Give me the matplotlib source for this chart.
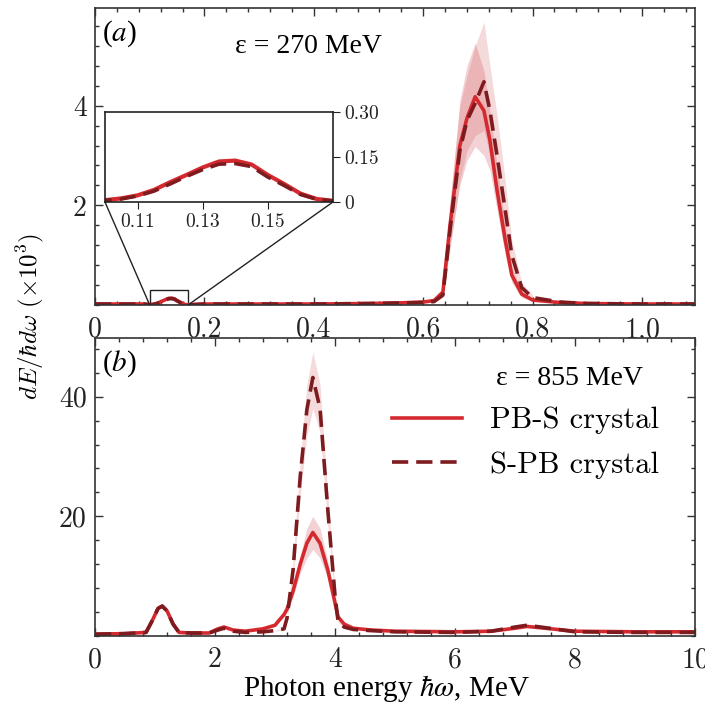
import matplotlib
matplotlib.use("Agg")
import matplotlib.pyplot as plt
from matplotlib.ticker import MultipleLocator
from mpl_toolkits.axes_grid1.inset_locator import mark_inset

plt.rcParams["mathtext.fontset"] = "cm"

# ---- spectra, panel (a): epsilon = 270 MeV ----
xa = [0, 0.05, 0.09, 0.10, 0.105, 0.11, 0.115, 0.12, 0.125, 0.13, 0.135, 0.14,
      0.145, 0.15, 0.155, 0.16, 0.165, 0.17, 0.2, 0.3, 0.4, 0.5, 0.55, 0.6,
      0.62, 0.636, 0.649, 0.667, 0.68, 0.695, 0.711, 0.722, 0.735, 0.75,
      0.762, 0.78, 0.8, 0.85, 0.9, 1.0, 1.1]
pbs_a = [0.02, 0.02, 0.02, 0.006, 0.012, 0.022, 0.04, 0.066, 0.09, 0.115, 0.135,
         0.138, 0.125, 0.09, 0.06, 0.028, 0.01, 0.004, 0.02, 0.02, 0.02, 0.03,
         0.04, 0.06, 0.09, 0.26, 1.6, 3.2, 3.75, 4.18, 3.9, 3.3, 2.3, 1.3,
         0.6, 0.22, 0.1, 0.05, 0.03, 0.02, 0.02]
spb_a = [0.02, 0.02, 0.02, 0.005, 0.01, 0.02, 0.036, 0.06, 0.085, 0.108, 0.126,
         0.128, 0.118, 0.083, 0.055, 0.025, 0.009, 0.003, 0.02, 0.02, 0.02, 0.03,
         0.04, 0.05, 0.07, 0.2, 1.5, 3.1, 3.7, 4.05, 4.48, 3.9, 3.0, 1.9,
         1.0, 0.35, 0.15, 0.06, 0.03, 0.02, 0.02]

xa_band = [0.62, 0.636, 0.649, 0.667, 0.68, 0.695, 0.711, 0.722, 0.735, 0.75, 0.762, 0.78, 0.8]
pbs_a_lo = [0.08, 0.2, 1.2, 2.4, 2.9, 3.18, 3.0, 2.7, 1.9, 1.0, 0.45, 0.15, 0.08]
pbs_a_hi = [0.1, 0.32, 2.0, 4.1, 4.8, 5.26, 4.7, 3.9, 2.8, 1.6, 0.75, 0.28, 0.12]
spb_a_lo = [0.06, 0.15, 1.1, 2.5, 3.1, 3.4, 3.5, 3.0, 2.2, 1.4, 0.7, 0.25, 0.1]
spb_a_hi = [0.08, 0.3, 2.1, 4.0, 4.6, 5.2, 5.68, 4.8, 3.8, 2.5, 1.3, 0.45, 0.2]

# ---- spectra, panel (b): epsilon = 855 MeV ----
xb = [0, 0.5, 0.85, 0.95, 1.05, 1.12, 1.2, 1.3, 1.4, 1.6, 1.9, 2.05, 2.15, 2.3,
      2.5, 2.8, 3.0, 3.15, 3.2, 3.3, 3.42, 3.53, 3.63, 3.75, 3.88, 4.0, 4.05,
      4.15, 4.3, 4.6, 5.0, 6.0, 6.6, 7.0, 7.2, 7.5, 8.0, 9.0, 10.0]
pbs_b = [0.3, 0.4, 0.6, 2.5, 4.6, 5.0, 4.2, 2.0, 0.6, 0.5, 0.5, 1.2, 1.5, 1.0,
         0.8, 1.2, 1.8, 3.6, 4.5, 7.5, 12.0, 15.5, 17.3, 15.5, 11.0, 5.5, 3.2,
         2.0, 1.3, 1.0, 0.8, 0.7, 0.8, 1.3, 1.6, 1.3, 0.8, 0.7, 0.7]
spb_b = [0.3, 0.4, 0.6, 2.5, 4.6, 5.0, 4.2, 2.0, 0.6, 0.5, 0.5, 1.0, 1.3, 0.8,
         0.6, 0.7, 0.9, 1.2, 3.0, 11.0, 26.7, 37.8, 43.2, 38.0, 21.0, 6.7, 2.5,
         1.5, 1.1, 0.9, 0.7, 0.6, 0.8, 1.5, 1.8, 1.4, 0.7, 0.6, 0.6]

xb_band = [3.0, 3.15, 3.2, 3.3, 3.42, 3.53, 3.63, 3.75, 3.88, 4.0, 4.05, 4.15]
pbs_b_lo = [2.0, 3.2, 4.0, 6.5, 10.5, 13.0, 14.5, 13.0, 9.5, 4.8, 3.0, 1.9]
pbs_b_hi = [2.6, 4.0, 5.0, 8.5, 13.5, 18.0, 20.0, 18.0, 12.5, 6.2, 3.5, 2.1]
spb_b_lo = [0.8, 1.1, 2.7, 9.5, 23.5, 33.5, 38.0, 34.0, 18.5, 6.0, 2.3, 1.4]
spb_b_hi = [1.0, 1.3, 3.3, 12.5, 29.5, 42.0, 47.5, 42.0, 23.5, 7.4, 2.7, 1.6]

xa_ticks = [0, 0.2, 0.4, 0.6, 0.8, 1.0]
xa_ticklabels = ["0", "0.2", "0.4", "0.6", "0.8", r"$1{,}0$"]
inset_xticks = [0.11, 0.13, 0.15]
inset_yticks = [0, 0.15, 0.30]
inset_yticklabels = ["0", "0.15", "0.30"]

RED = "#d42a2f"
DARK = "#7e1b1f"
BAND = "#c8323c"
SPINE = "#333333"
DASH = (0, (4.5, 2.2))
TICKFONT = "cmr10"
SERIF = "Liberation Serif"

fig = plt.figure(figsize=(7.05, 7.03), dpi=100)
ax_a = fig.add_axes([0.1348, 0.5661, 0.8511, 0.4225])
ax_b = fig.add_axes([0.1348, 0.0953, 0.8511, 0.4239])


def style_axes(ax, xmajor, xminor, ymajor, yminor):
    ax.xaxis.set_major_locator(MultipleLocator(xmajor))
    ax.xaxis.set_minor_locator(MultipleLocator(xminor))
    ax.yaxis.set_major_locator(MultipleLocator(ymajor))
    ax.yaxis.set_minor_locator(MultipleLocator(yminor))
    ax.tick_params(which="both", direction="in", top=True, right=True,
                   color=SPINE, width=1.0)
    ax.tick_params(which="major", length=6, labelsize=20, labelcolor="#222222")
    ax.tick_params(which="minor", length=3)
    ax.tick_params(axis="x", pad=8)
    ax.tick_params(axis="y", pad=6)
    for sp in ax.spines.values():
        sp.set_color(SPINE)
        sp.set_linewidth(1.2)
    for lab in ax.get_xticklabels() + ax.get_yticklabels():
        lab.set_fontfamily(TICKFONT)


def draw_spectra(ax, x, pbs, spb, xband, pbs_lo, pbs_hi, spb_lo, spb_hi, lw=2.6):
    ax.fill_between(xband, spb_lo, spb_hi, color=BAND, alpha=0.18, lw=0)
    ax.fill_between(xband, pbs_lo, pbs_hi, color=BAND, alpha=0.22, lw=0)
    ax.plot(x, pbs, color=RED, lw=lw, label="PB-S crystal")
    ax.plot(x, spb, color=DARK, lw=lw, ls=DASH, label="S-PB crystal")


# panel (a)
draw_spectra(ax_a, xa, pbs_a, spb_a, xa_band, pbs_a_lo, pbs_a_hi, spb_a_lo, spb_a_hi)
ax_a.set_xlim(0, 1.097)
ax_a.set_ylim(0, 5.96)
style_axes(ax_a, 0.2, 0.04, 2, 0.4)
ax_a.set_xticks(xa_ticks)
ax_a.set_xticklabels(xa_ticklabels, fontfamily=TICKFONT)
ax_a.set_yticks([2, 4])
ax_a.set_yticklabels(["2", "4"], fontfamily=TICKFONT)
ax_a.text(0.012, 0.965, r"($a$)", transform=ax_a.transAxes, fontsize=21,
          family=SERIF, va="top", math_fontfamily="stix")
ax_a.text(0.355, 0.87, "ε = 270 MeV", transform=ax_a.transAxes, fontsize=20,
          family=SERIF, ha="center", va="center")

# zoomed view of the low-energy bump
axins = fig.add_axes([0.1489, 0.7127, 0.3234, 0.128])
axins.plot(xa, pbs_a, color=RED, lw=3.0)
axins.plot(xa, spb_a, color=DARK, lw=2.6, ls=DASH)
axins.set_xlim(0.10, 0.17)
axins.set_ylim(0, 0.30)
axins.yaxis.tick_right()
axins.set_xticks(inset_xticks)
axins.set_xticklabels([f"{v:.2f}" for v in inset_xticks], fontfamily=TICKFONT)
axins.set_yticks(inset_yticks)
axins.set_yticklabels(inset_yticklabels, fontfamily=TICKFONT)
axins.tick_params(direction="out", length=5, labelsize=14, color="#222222",
                  labelcolor="#222222", pad=3)
for sp in axins.spines.values():
    sp.set_color("#222222")
    sp.set_linewidth(1.2)
mark_inset(ax_a, axins, loc1=3, loc2=4, fc="none", ec="#222222", lw=1.0)

# panel (b)
draw_spectra(ax_b, xb, pbs_b, spb_b, xb_band, pbs_b_lo, pbs_b_hi, spb_b_lo, spb_b_hi)
ax_b.set_xlim(0, 10)
ax_b.set_ylim(0, 49.8)
style_axes(ax_b, 2, 0.4, 20, 4)
ax_b.set_yticks([20, 40])
ax_b.set_yticklabels(["20", "40"], fontfamily=TICKFONT)
ax_b.text(0.012, 0.965, r"($b$)", transform=ax_b.transAxes, fontsize=21,
          family=SERIF, va="top", math_fontfamily="stix")
ax_b.text(0.79, 0.865, "ε = 855 MeV", transform=ax_b.transAxes, fontsize=20,
          family=SERIF, ha="center", va="center")
ax_b.legend(loc="upper right", bbox_to_anchor=(0.97, 0.83), frameon=False,
            prop={"family": TICKFONT, "size": 22}, handlelength=2.3,
            handletextpad=0.9, labelspacing=0.55, borderaxespad=0.2)

fig.text(0.548, 0.021, r"Photon energy $\hbar\omega$, MeV", fontsize=21,
         family=SERIF, ha="center", va="center", math_fontfamily="stix")
fig.text(0.043, 0.55, r"$dE/\hbar d\omega\ (\times 10^3)$", fontsize=18,
         rotation=90, ha="center", va="center", math_fontfamily="cm")

fig.savefig("out.png", dpi=100)
